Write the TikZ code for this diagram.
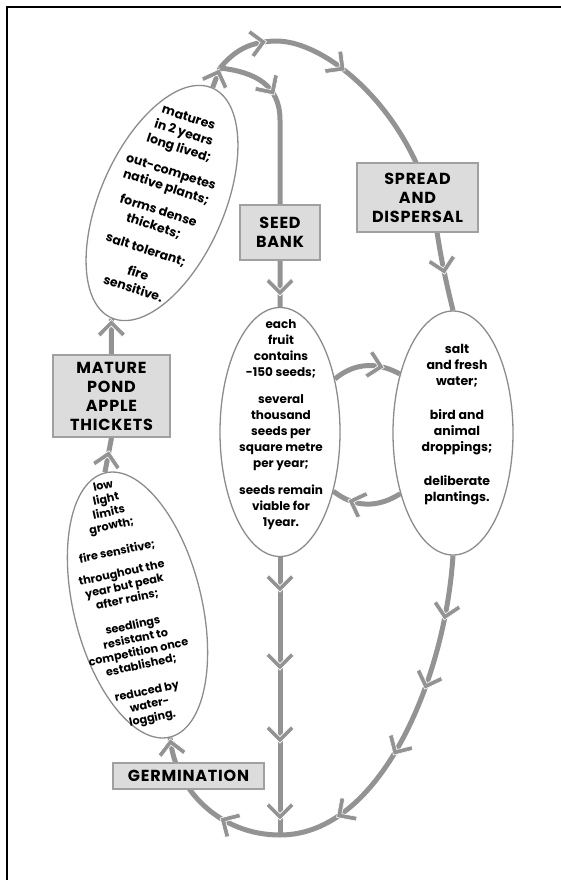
\documentclass[tikz,border=0pt]{standalone}
\usepackage{fontspec}
\setmainfont{Poppins}
\usetikzlibrary{shapes.geometric,decorations.markings,backgrounds}
\definecolor{flowgray}{HTML}{939393}
\definecolor{edgegray}{HTML}{8C8C8C}
\definecolor{boxfill}{HTML}{DCDCDC}
\definecolor{boxedge}{HTML}{A0A0A0}
\tikzset{
  flow/.style={draw=flowgray, line width=5pt},
  chevron/.style={fill=flowgray, draw=white, line width=0.6pt, line join=miter},
  am/.style={postaction={decorate,decoration={markings,mark=at position #1 with {\filldraw[chevron] (3,0) -- (-11,14) -- (-14.5,11) -- (-3.5,0) -- (-14.5,-11) -- (-11,-14) -- cycle;}}}},
  oval/.style={ellipse, draw=edgegray, line width=1.3pt, fill=white, inner sep=0pt},
  stagebox/.style={rectangle, draw=boxedge, line width=1.8pt, fill=boxfill, align=center, inner sep=0pt, font=\bfseries\fontsize{16}{19}\selectfont\addfontfeatures{LetterSpace=5}},
  note/.style={align=center, font=\bfseries\fontsize{12.5}{16}\selectfont},
}
\begin{document}
\begin{tikzpicture}[x=1pt,y=-1pt]
\useasboundingbox (0,0) rectangle (561,880);
\draw[line width=2pt] (7,880) -- (7,7) -- (561,7);

% ellipses
\node[oval, minimum width=124pt, minimum height=251pt, rotate=-23.7] (upE) at (162,203) {};
\node[oval, minimum width=128pt, minimum height=272pt, rotate=13.8] (lowE) at (137.5,605) {};
\node[oval, minimum width=120pt, minimum height=249pt] (midE) at (280,432) {};
\node[oval, minimum width=120pt, minimum height=244pt] (rightE) at (453,433) {};

% ellipse texts
\node[note, rotate=-18, font=\bfseries\fontsize{12.5}{16}\selectfont] (upT) at (161,203)
  {matures\\in 2 years\\long lived;\\[9pt]out-competes\\native plants;\\[9pt]forms dense\\thickets;\\[9pt]salt tolerant;\\[9pt]fire\\sensitive.};
\node[note, rotate=12, font=\bfseries\fontsize{11.2}{13.6}\selectfont] (lowT) at (128,603)
  {low\\light\\limits\\growth;\\[13pt]fire sensitive;\\[8pt]throughout the\\year but peak\\after rains;\\[13pt]seedlings\\resistant to\\competition once\\established;\\[13pt]reduced by\\water-\\logging.};
\node[note, font=\bfseries\fontsize{12}{16}\selectfont] (midT) at (281,425)
  {each\\fruit\\contains\\-150 seeds;\\[11pt]several\\thousand\\seeds per\\square metre\\per year;\\[11pt]seeds remain\\viable for\\1year.};
\node[note] (rightT) at (457,425)
  {salt\\and fresh\\water;\\[18pt]bird and\\animal\\droppings;\\[18pt]deliberate\\plantings.};

% stage boxes
\node[stagebox, minimum width=117pt, minimum height=82pt] (MP) at (111.5,396) {MATURE\\POND\\APPLE\\THICKETS};
\node[stagebox, minimum width=80pt, minimum height=55pt] (SB) at (280,232.5) {SEED\\BANK};
\node[stagebox, minimum width=121pt, minimum height=69pt] (SD) at (417.5,197.5) {SPREAD\\AND\\DISPERSAL};
\node[stagebox, minimum width=151pt, minimum height=26pt] (GE) at (188.5,776) {GERMINATION};

\coordinate (J) at (220,68);
\coordinate (B) at (280,835);

\begin{pgfonlayer}{background}
\draw[flow, am=-4pt] (upE.north) -- (J);
\draw[flow, am=52pt, am=138pt, am=-40pt] (J) .. controls (235,50) and (250,42) .. (275,41) .. controls (330,40) and (420,120) .. (437,232) .. controls (442,265) and (448,290) .. (rightE.north);
\draw[flow, am=60pt, am=-14pt] (J) .. controls (255,72) and (280,85) .. (280,120) -- (midE.north);
\draw[flow, am=32pt, am=110pt, am=183pt, am=260pt] (midE.south) -- (B);
\draw[flow, am=62pt, am=134pt, am=207pt, am=292pt] (rightE.south) .. controls (445,680) and (380,835) .. (B);
\draw[flow, am=60pt, am=-4pt] (B) .. controls (220,835) and (175,790) .. (lowE.south);
\draw[flow, am=-16pt] (lowE.north) -- (MP.south);
\draw[flow, am=-4pt] (MP.north) -- (upE.south);
\draw[flow, am=-20pt] (midE.44) .. controls (355,362) and (378,362) .. (rightE.132);
\draw[flow, am=-20pt] (rightE.229) .. controls (378,508) and (355,508) .. (midE.312);
\end{pgfonlayer}
\end{tikzpicture}
\end{document}
